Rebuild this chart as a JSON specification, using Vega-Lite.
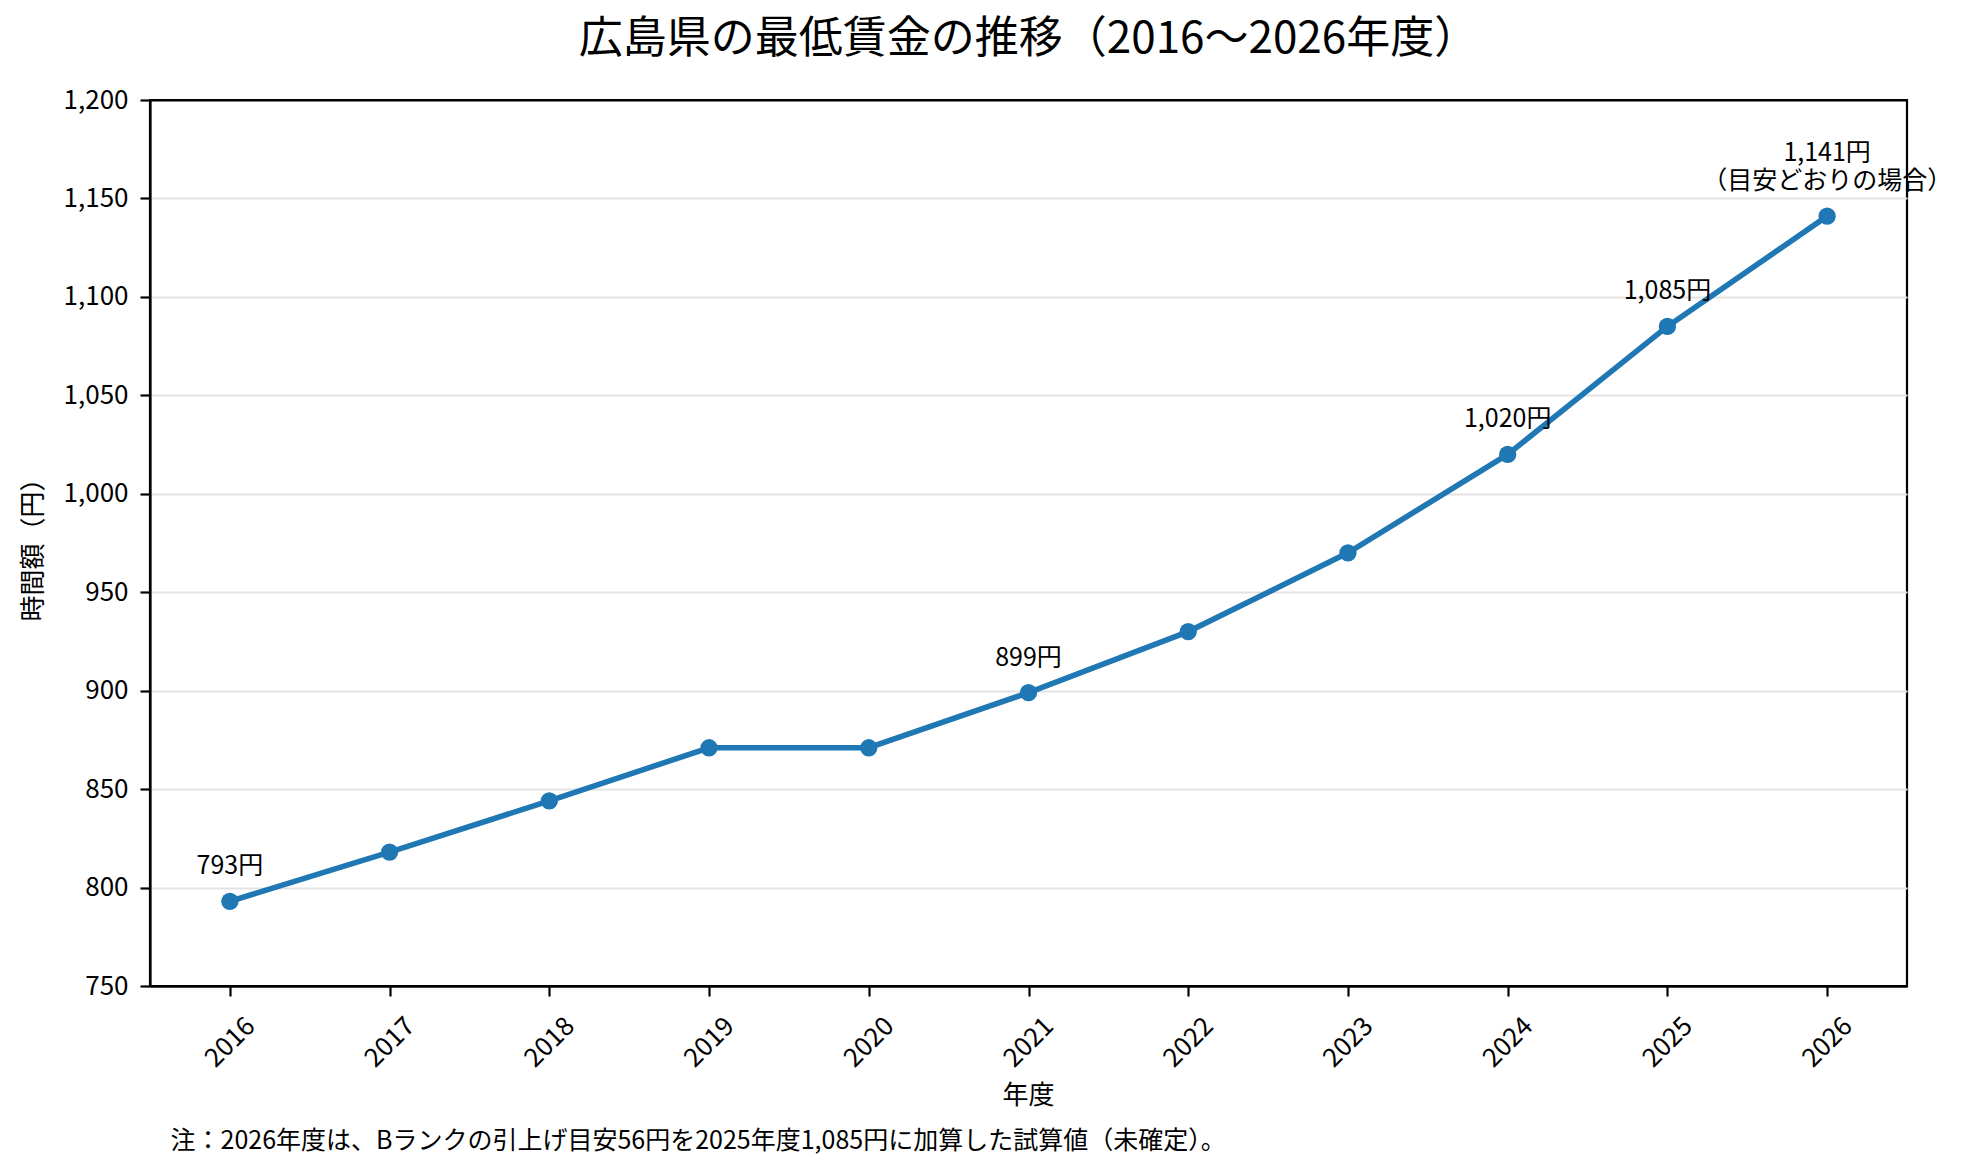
{
  "$schema": "https://vega.github.io/schema/vega-lite/v6.json",
  "autosize": "none",
  "width": 1757,
  "height": 886,
  "padding": {"left": 150, "top": 100, "right": 65, "bottom": 187},
  "background": "white",
  "title": {
    "text": "広島県の最低賃金の推移（2016〜2026年度）",
    "fontSize": 44,
    "fontWeight": "normal",
    "frame": "group",
    "anchor": "middle",
    "baseline": "middle",
    "offset": 60,
    "dy": 57,
    "color": "black"
  },
  "data": {
    "values": [
      {"year": "2016", "wage": 793, "label": "793円"},
      {"year": "2017", "wage": 818},
      {"year": "2018", "wage": 844},
      {"year": "2019", "wage": 871},
      {"year": "2020", "wage": 871},
      {"year": "2021", "wage": 899, "label": "899円"},
      {"year": "2022", "wage": 930},
      {"year": "2023", "wage": 970},
      {"year": "2024", "wage": 1020, "label": "1,020円"},
      {"year": "2025", "wage": 1085, "label": "1,085円"},
      {"year": "2026", "wage": 1141, "label": "（目安どおりの場合）", "label_top": "1,141円"}
    ]
  },
  "encoding": {
    "x": {
      "field": "year",
      "type": "ordinal",
      "scale": {"type": "point", "padding": 0.5},
      "axis": {
        "title": "年度",
        "labelAngle": -45,
        "labelAlign": "center",
        "labelBaseline": "middle",
        "labelPadding": 46,
        "grid": false,
        "titleY": 109,
        "titleX": 878,
        "titleBaseline": "middle",
        "titleAlign": "center"
      }
    }
  },
  "layer": [
    {
      "mark": {"type": "line", "color": "#1f77b4", "strokeWidth": 5.6},
      "encoding": {
        "y": {
          "field": "wage",
          "type": "quantitative",
          "scale": {"domain": [750, 1200], "nice": false, "zero": false},
          "axis": {
            "values": [750, 800, 850, 900, 950, 1000, 1050, 1100, 1150, 1200],
            "format": ",d",
            "title": "時間額（円）",
            "titleX": -117,
            "titleY": 443,
            "titleAlign": "center",
            "titleBaseline": "middle",
            "titleAngle": -90,
            "gridColor": {
              "condition": {"test": "datum.value >= 1200 || datum.value <= 750", "value": "black"},
              "value": "#e3e3e3"
            }
          }
        }
      }
    },
    {
      "mark": {"type": "point", "filled": true, "size": 300, "color": "#1f77b4", "opacity": 1},
      "encoding": {
        "y": {"field": "wage", "type": "quantitative", "axis": null}
      }
    },
    {
      "transform": [{"filter": "isValid(datum.label)"}],
      "mark": {
        "type": "text",
        "fontSize": 25,
        "align": "center",
        "baseline": "bottom",
        "dy": -22,
        "color": "black"
      },
      "encoding": {
        "y": {
          "field": "wage",
          "type": "quantitative",
          "axis": {
            "orient": "right",
            "domain": false,
            "ticks": false,
            "labels": false,
            "grid": false,
            "title": "注：2026年度は、Bランクの引上げ目安56円を2025年度1,085円に加算した試算値（未確定）。",
            "titleFontSize": 25,
            "titleAlign": "left",
            "titleBaseline": "middle",
            "titleAngle": 0,
            "titleX": -1737,
            "titleY": 1040
          }
        },
        "text": {"field": "label", "type": "nominal"}
      }
    },
    {
      "transform": [{"filter": "isValid(datum.label_top)"}],
      "mark": {
        "type": "text",
        "fontSize": 25,
        "align": "center",
        "baseline": "bottom",
        "dy": -50,
        "color": "black"
      },
      "encoding": {
        "y": {"field": "wage", "type": "quantitative", "axis": null},
        "text": {"field": "label_top", "type": "nominal"}
      }
    }
  ],
  "resolve": {"axis": {"y": "independent"}},
  "config": {
    "font": "Noto Sans CJK JP",
    "view": {"stroke": "black", "strokeWidth": 2.2},
    "axis": {
      "labelFont": "Noto Sans CJK JP",
      "titleFont": "Noto Sans CJK JP",
      "labelFontSize": 26,
      "titleFontSize": 26,
      "labelColor": "black",
      "titleColor": "black",
      "titleFontWeight": "normal",
      "domainColor": "black",
      "domainWidth": 2.2,
      "tickColor": "black",
      "tickWidth": 2.2,
      "tickSize": 10,
      "labelPadding": 12,
      "gridColor": "#e3e3e3",
      "gridWidth": 2
    }
  }
}
